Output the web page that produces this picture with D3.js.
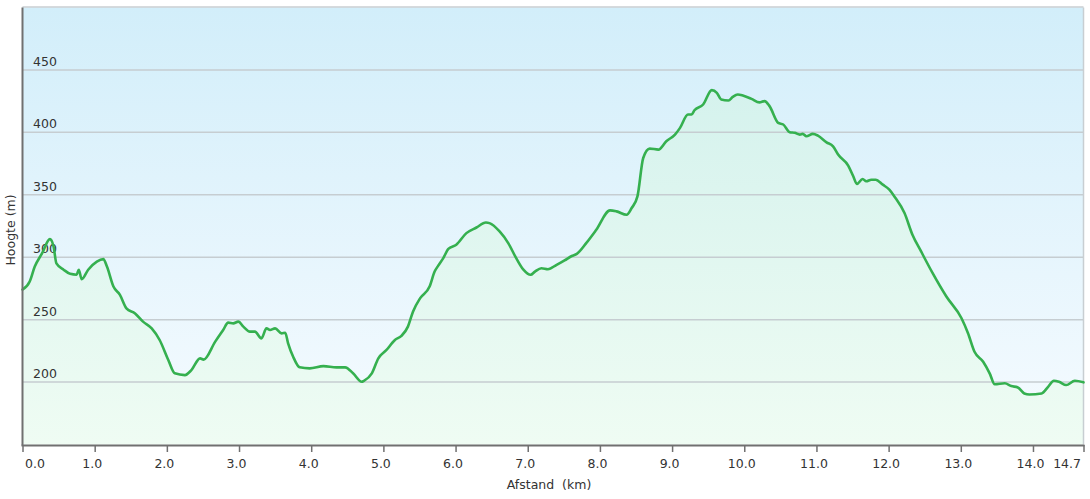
<!DOCTYPE html>
<html><head><meta charset="utf-8">
<script src="https://cdn.jsdelivr.net/npm/d3@7/dist/d3.min.js"></script>
<style>html,body{margin:0;padding:0;background:#fff;}svg{display:block;}</style>
</head><body><svg id="c" width="1090" height="499"></svg>
<script>
const distance = [0, 0.10, 0.17, 0.27, 0.38, 0.43, 0.47, 0.57, 0.66, 0.75, 0.78, 0.82, 0.91, 1.03, 1.12, 1.17, 1.26, 1.35, 1.44, 1.56, 1.67, 1.79, 1.90, 2.02, 2.11, 2.25, 2.34, 2.46, 2.51, 2.67, 2.78, 2.85, 2.92, 2.99, 3.06, 3.15, 3.22, 3.31, 3.38, 3.43, 3.50, 3.59, 3.64, 3.68, 3.75, 3.84, 3.98, 4.17, 4.35, 4.47, 4.58, 4.70, 4.73, 4.84, 4.93, 5.04, 5.16, 5.25, 5.34, 5.41, 5.51, 5.64, 5.71, 5.76, 5.83, 5.90, 6.01, 6.15, 6.29, 6.42, 6.47, 6.61, 6.73, 6.84, 6.94, 7.04, 7.10, 7.19, 7.28, 7.40, 7.51, 7.61, 7.68, 7.81, 7.95, 8.14, 8.23, 8.37, 8.44, 8.52, 8.60, 8.69, 8.81, 8.92, 9.04, 9.11, 9.22, 9.27, 9.31, 9.43, 9.55, 9.62, 9.68, 9.78, 9.84, 9.91, 9.98, 10.10, 10.21, 10.28, 10.35, 10.47, 10.54, 10.63, 10.70, 10.77, 10.81, 10.86, 10.95, 11.02, 11.14, 11.23, 11.30, 11.44, 11.51, 11.56, 11.64, 11.69, 11.76, 11.82, 11.92, 12.01, 12.08, 12.22, 12.33, 12.45, 12.61, 12.80, 13.01, 13.10, 13.19, 13.31, 13.40, 13.47, 13.61, 13.70, 13.79, 13.88, 13.95, 14.12, 14.21, 14.29, 14.36, 14.46, 14.58, 14.70];
const elevation = [274, 280.5, 292.5, 303, 314.5, 308.6, 295, 290, 286.7, 286, 290, 282.4, 290, 296.5, 298.5, 292.5, 276.5, 269.8, 259, 255, 248.4, 243, 233.7, 217.7, 207, 205.6, 209.6, 219, 218, 232.4, 241.7, 247.6, 247, 248.4, 244.4, 240.4, 240.4, 235, 243, 241.7, 243, 239, 239.5, 231, 220.3, 211.8, 211, 212.8, 211.8, 211.8, 207, 200.2, 201, 207, 219, 225.5, 233.7, 237, 244.4, 256.4, 267.2, 276.5, 288.5, 293.3, 299.3, 306.7, 310, 319.3, 323.8, 327.8, 327.3, 320.6, 311.3, 299.3, 290, 285.9, 288.5, 291.2, 290.4, 293.9, 297.4, 301, 302.7, 311.3, 322, 337.5, 336.7, 334, 339.4, 348.7, 379.5, 387, 386.2, 392.9, 398.2, 403.6, 414.3, 414.3, 417.7, 422.3, 433.8, 431.7, 426.3, 425.5, 428.4, 430.3, 429.5, 426.8, 424, 425, 421, 407.6, 406.3, 400.1, 399.6, 398.2, 398.8, 396.9, 398.8, 397.4, 392, 388.8, 382.2, 373.4, 364.8, 358.7, 362.7, 360.8, 362.1, 362.1, 358.1, 354.1, 348.7, 335.4, 318, 304.6, 287.2, 268.5, 251.1, 239.1, 224.3, 216.3, 207, 198.2, 199, 196.8, 195.7, 190.9, 190.1, 190.9, 196.2, 201, 200.2, 197.6, 201, 199.8];
const xTicks = [0,1,2,3,4,5,6,7,8,9,10,11,12,13,14,14.7];
const xTickLabels = ["0.0","1.0","2.0","3.0","4.0","5.0","6.0","7.0","8.0","9.0","10.0","11.0","12.0","13.0","14.0","14.7"];
const yTicks = [200,250,300,350,400,450];
const yTickLabels = ["200","250","300","350","400","450"];
const xTitle = "Afstand  (km)";
const yTitle = "Hoogte (m)";

const svg = d3.select("#c");
const L = 22.5, R = 1083.5, T = 7.5, B = 444.5;
const x = d3.scaleLinear().domain([0, 14.7]).range([L, R]);
const y = d3.scaleLinear().domain([150, 500]).range([B, T]);
const data = distance.map((d,i)=>({d, e: elevation[i]}));
const font = "'DejaVu Sans', Verdana, sans-serif";
const curve = d3.curveMonotoneX;

const defs = svg.append("defs");
const bg = defs.append("linearGradient").attr("id","bg").attr("gradientUnits","userSpaceOnUse")
  .attr("x1",0).attr("y1",T).attr("x2",0).attr("y2",B);
bg.append("stop").attr("offset","0%").attr("stop-color","#d2eefa");
bg.append("stop").attr("offset","100%").attr("stop-color","#f6fbff");
const ag = defs.append("linearGradient").attr("id","ag").attr("gradientUnits","userSpaceOnUse")
  .attr("x1",0).attr("y1",T).attr("x2",0).attr("y2",B);
ag.append("stop").attr("offset","0%").attr("stop-color","#cff0ec");
ag.append("stop").attr("offset","100%").attr("stop-color","#effcf3");

svg.append("rect").attr("x",L).attr("y",T).attr("width",R-L).attr("height",B-T).attr("fill","url(#bg)");

// area
svg.append("path").datum(data)
  .attr("fill","url(#ag)")
  .attr("d", d3.area().curve(curve).x(p=>x(p.d)).y0(B).y1(p=>y(p.e)));

// gridlines
svg.append("g").selectAll("line").data(yTicks).join("line")
  .attr("x1",L).attr("x2",R).attr("y1",d=>y(d)).attr("y2",d=>y(d))
  .attr("stroke","#c6cdd1").attr("stroke-width",1.5);

// y labels
svg.append("g").selectAll("text").data(yTicks).join("text")
  .attr("x",33).attr("y",d=>y(d)-4)
  .attr("font-family",font).attr("font-size",12.5).attr("fill","#333")
  .text((d,i)=>yTickLabels[i]);

// frame
svg.append("line").attr("x1",L).attr("x2",R).attr("y1",T-0.5).attr("y2",T-0.5).attr("stroke","#c8ced2").attr("stroke-width",1.5);
svg.append("line").attr("x1",R).attr("x2",R).attr("y1",T).attr("y2",B).attr("stroke","#c8ced2").attr("stroke-width",1.5);

// line
svg.append("path").datum(data)
  .attr("fill","none").attr("stroke","#35b04f").attr("stroke-width",2.6)
  .attr("stroke-linejoin","round").attr("stroke-linecap","round")
  .attr("d", d3.line().curve(curve).x(p=>x(p.d)).y(p=>y(p.e)));

// axes
const xAxis = svg.append("g").attr("transform",`translate(0,${B+0.5})`)
  .call(d3.axisBottom(x).tickValues(xTicks).tickSize(7).tickFormat((d,i)=>xTickLabels[i]));
xAxis.select(".domain").attr("stroke","#707070").attr("stroke-width",2).attr("d",`M${L-1},0.5H${R+1}`);
xAxis.selectAll(".tick line").attr("stroke","#707070").attr("stroke-width",1.5);
xAxis.selectAll(".tick text").attr("font-family",font).attr("font-size",12.5).attr("fill","#333")
  .attr("dy",0).attr("y",23).attr("dx",-3);
xAxis.selectAll(".tick text").filter((d,i)=>i===0).attr("text-anchor","start").attr("dx",2);
xAxis.selectAll(".tick text").filter((d,i)=>i===xTicks.length-1).attr("text-anchor","end").attr("dx",-3);

const yAxis = svg.append("g").attr("transform",`translate(${L},0)`)
  .call(d3.axisLeft(y).tickValues([]).tickSize(0));
yAxis.select(".domain").attr("stroke","#707070").attr("stroke-width",2).attr("d",`M0,${T}V${B+1}`);

svg.append("text").attr("x",549).attr("y",489).attr("text-anchor","middle")
  .attr("font-family",font).attr("font-size",12.5).attr("fill","#333")
  .style("white-space","pre").text(xTitle);
svg.append("text").attr("transform","translate(15,230) rotate(-90)").attr("text-anchor","middle")
  .attr("font-family",font).attr("font-size",12.5).attr("fill","#333").text(yTitle);
</script></body></html>
